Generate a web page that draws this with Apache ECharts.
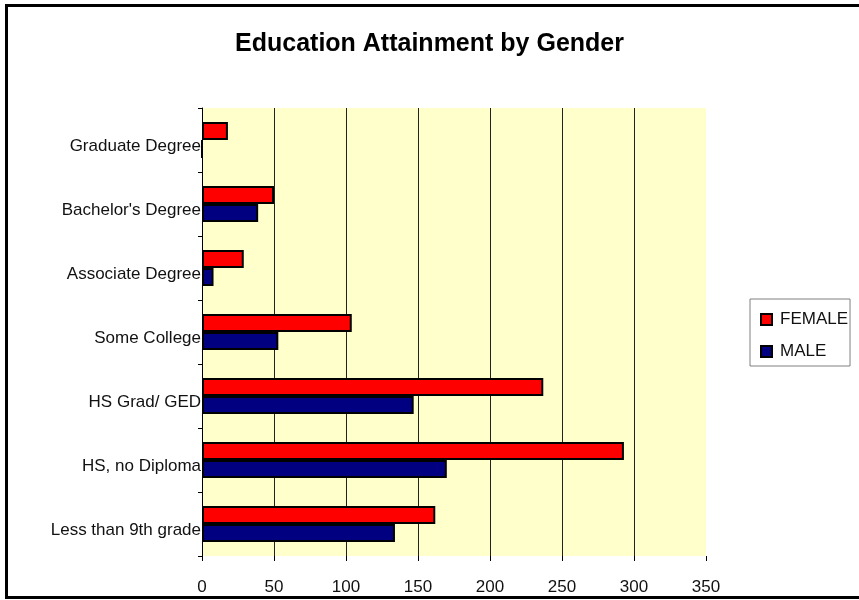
<!DOCTYPE html>
<html>
<head>
<meta charset="utf-8">
<title>Education Attainment by Gender</title>
<script src="https://cdn.jsdelivr.net/npm/echarts@6/dist/echarts.min.js"></script>
<style>
  html, body { margin: 0; padding: 0; background: #ffffff; }
  #chart { width: 859px; height: 600px; }
</style>
</head>
<body>
<div id="chart"></div>
<script>
// Education levels, listed from the bottom of the axis upward
const categories = [
  'Less than 9th grade',
  'HS, no Diploma',
  'HS Grad/ GED',
  'Some College',
  'Associate Degree',
  "Bachelor's Degree",
  'Graduate Degree'
];

// Counts per education level
const femaleValues = [162, 293, 237, 104, 29, 50, 18];
const maleValues   = [134, 170, 147, 53, 8, 39, 0];

// Value axis tick labels
const xTicks = [0, 50, 100, 150, 200, 250, 300, 350];

const FONT = '"Liberation Sans", Arial, Helvetica, sans-serif';

const chart = echarts.init(document.getElementById('chart'), null, { renderer: 'canvas' });

chart.setOption({
  animation: false,
  backgroundColor: '#ffffff',
  title: {
    text: 'Education Attainment by Gender',
    left: 'center',
    top: 32,
    padding: [0, 0, 0, 11],
    textStyle: { fontFamily: FONT, fontSize: 25, fontWeight: 'bold', color: '#000000' }
  },
  graphic: [{
    type: 'rect',
    silent: true,
    z: 100,
    shape: { x: 6.5, y: 5.5, width: 870, height: 592 },
    style: { fill: 'none', stroke: '#000000', lineWidth: 3 }
  }],
  legend: {
    orient: 'vertical',
    left: 750,
    top: 299,
    padding: [12, 2, 6, 10],
    itemGap: 15,
    itemWidth: 11,
    itemHeight: 11,
    borderColor: '#808080',
    borderWidth: 1,
    backgroundColor: '#ffffff',
    icon: 'rect',
    data: ['FEMALE', 'MALE'],
    itemStyle: { borderColor: '#000000', borderWidth: 2 },
    textStyle: { fontFamily: FONT, fontSize: 17, color: '#111111', lineHeight: 17, padding: [0, 0, 0, 3] }
  },
  grid: {
    left: 202,
    right: 153,
    top: 108,
    bottom: 44,
    show: true,
    backgroundColor: '#FFFFCC',
    borderWidth: 0
  },
  xAxis: {
    type: 'value',
    min: xTicks[0],
    max: xTicks[xTicks.length - 1],
    interval: xTicks[1] - xTicks[0],
    axisLine: { show: false },
    axisTick: { show: true, length: 5, lineStyle: { color: '#000000' } },
    axisLabel: { fontFamily: FONT, fontSize: 17, color: '#111111', margin: 23 },
    splitLine: { show: true, showMinLine: false, showMaxLine: false, lineStyle: { color: '#222222', width: 1 } }
  },
  yAxis: {
    type: 'category',
    data: categories,
    axisLine: { show: true, lineStyle: { color: '#000000', width: 1 } },
    axisTick: { show: true, length: 4, lineStyle: { color: '#000000' } },
    axisLabel: {
      fontFamily: FONT, fontSize: 17, color: '#111111', margin: 1,
      verticalAlign: 'top', lineHeight: 13
    },
    splitLine: { show: false }
  },
  series: [
    {
      name: 'FEMALE',
      type: 'bar',
      data: femaleValues,
      barGap: '0%',
      barCategoryGap: '44%',
      itemStyle: { color: '#FF0000', borderColor: '#000000', borderWidth: 2 }
    },
    {
      name: 'MALE',
      type: 'bar',
      data: maleValues,
      barGap: '0%',
      barCategoryGap: '44%',
      itemStyle: { color: '#000080', borderColor: '#000000', borderWidth: 2 }
    }
  ]
});
</script>
</body>
</html>
